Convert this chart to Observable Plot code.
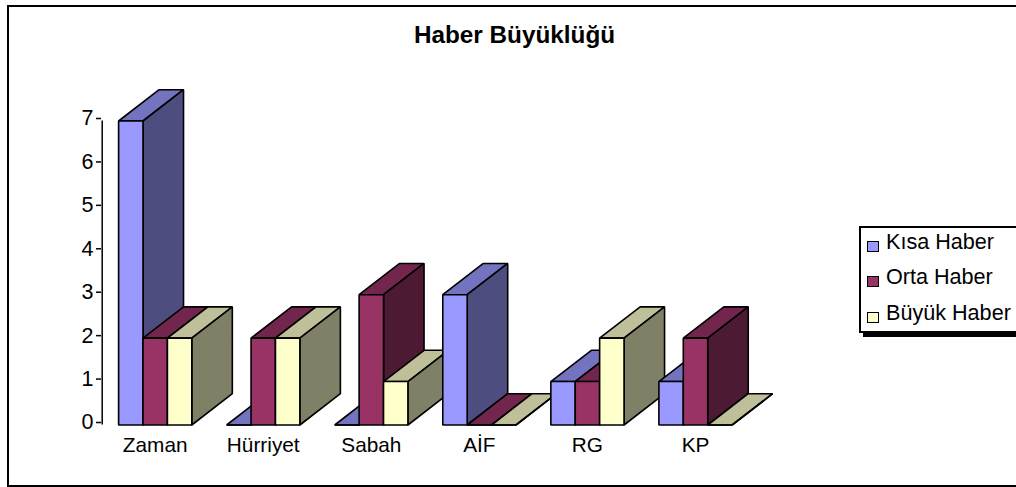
<!DOCTYPE html>
<html><head><meta charset="utf-8">
<script src="https://cdn.jsdelivr.net/npm/d3@7"></script>
<script src="https://cdn.jsdelivr.net/npm/@observablehq/plot@0.6"></script>
<style>
html,body{margin:0;padding:0;background:#fff;width:1016px;height:487px;overflow:hidden;font-family:"Liberation Sans",Arial,sans-serif;color:#000}
#frame{position:absolute;left:7px;top:5px;width:1020px;height:478px;border:2px solid #000}
#title{position:absolute;left:364px;top:21px;width:301px;text-align:center;font-weight:bold;font-size:24.3px;line-height:28px;white-space:nowrap}
#chart{position:absolute;left:0;top:0}
#legend{position:absolute;left:859px;top:226px;width:160px;height:107px;box-sizing:border-box;border:2px solid #000;background:#fff;box-shadow:4px 4px 0 #000}
.item{position:absolute;left:25px;font-size:21.6px;line-height:24px;white-space:nowrap}
.sw{position:absolute;width:10px;height:9px;left:6px;border:1.5px solid #000}
</style></head><body>
<div id="frame"></div>
<div id="chart"></div>
<div id="title">Haber Büyüklüğü</div>
<div id="legend"></div>
<script>
const categories = ["Zaman","Hürriyet","Sabah","AİF","RG","KP"];
const seriesNames = ["Kısa Haber","Orta Haber","Büyük Haber"];
const kisa  = [7,0,0,3,1,1];
const orta  = [2,2,3,0,1,2];
const buyuk = [2,2,1,0,2,0];
const frontColors = ["#9999FF","#993366","#FFFFCC"];
const topColors   = ["#7373BF","#73264D","#BFBF99"];
const sideColors  = ["#4D4D80","#4D1A33","#808066"];
const barWidth = 0.2258, depthX = 0.375, depthY = 0.72;

const values = [kisa, orta, buyuk];
const polys = [];
let id = 0;
function poly(pts, fill){ id++; pts.forEach(([x,y]) => polys.push({x,y,id,fill})); }
categories.forEach((c,i) => {
  values.forEach((s,j) => {
    const a = i + (j-1.5)*barWidth, b = a + barWidth, v = s[i];
    poly([[a,v],[b,v],[b+depthX,v+depthY],[a+depthX,v+depthY]], topColors[j]);
    poly([[b,0],[b+depthX,depthY],[b+depthX,v+depthY],[b,v]], sideColors[j]);
    poly([[a,0],[b,0],[b,v],[a,v]], frontColors[j]);
  });
});

const plot = Plot.plot({
  width:1016, height:487,
  marginLeft:101, marginTop:0, marginRight:0, marginBottom:0,
  style:{background:"transparent",overflow:"visible",fontFamily:"'Liberation Sans',Arial,sans-serif"},
  x:{domain:[0,5], range:[154.7,695]},
  y:{domain:[0,7], range:[424.5,120.5]},
  color:{type:"identity"},
  marks:[
    Plot.ruleX([0],{x:()=>-0.4905,y1:0,y2:7,stroke:"#000",strokeWidth:1.5}),
    Plot.axisY({ticks:d3.range(0,8),anchor:"left",tickSize:5,tickPadding:3,tickFormat:d=>String(d),label:null,fontSize:21.5,stroke:"#000",strokeWidth:1.5,fill:"#000",dy:-2.5}),
    Plot.axisX({ticks:d3.range(0,6),anchor:"bottom",tickSize:0,tickPadding:0,tickFormat:d=>categories[d],label:null,fontSize:20.8,fill:"#000",y:0,dy:12}),
    Plot.line(polys,{x:"x",y:"y",z:"id",fill:"fill",stroke:"#000",strokeWidth:1.6,curve:"linear-closed",strokeLinejoin:"miter"})
  ]
});
document.getElementById("chart").appendChild(plot);

const legend = document.getElementById("legend");
const tops = [2,37,73];
seriesNames.forEach((n,j) => {
  const t = document.createElement("div");
  t.className="item"; t.textContent=n; t.style.top=tops[j]+"px"; legend.appendChild(t);
  const s = document.createElement("div");
  s.className="sw"; s.style.background=frontColors[j]; s.style.top=(tops[j]+11)+"px"; legend.appendChild(s);
});
</script>
</body></html>
